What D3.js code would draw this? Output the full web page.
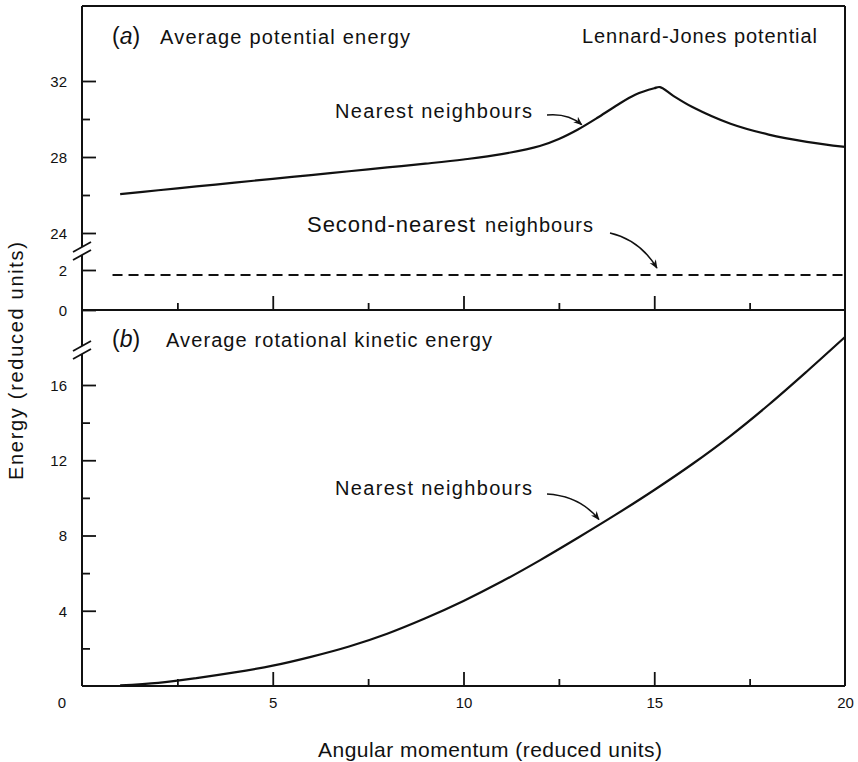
<!DOCTYPE html>
<html>
<head>
<meta charset="utf-8">
<script src="https://cdn.jsdelivr.net/npm/d3@7"></script>
<style>
  body { margin: 0; background: #fff; }
  svg text { font-family: "Liberation Sans", Arial, Helvetica, sans-serif; fill: #111; }
  .axis text { font-size: 15px; }
  .axis line { stroke: #111; stroke-width: 1.8; }
</style>
</head>
<body>
<div id="chart"></div>
<script>
// ---- data ----
// (a) average potential energy, nearest neighbours
const potX = [1, 2, 3, 4, 5, 6, 7, 8, 9, 10, 11, 12, 12.5, 13, 13.5, 14, 14.5, 15, 15.15, 15.5, 16, 17, 18, 19, 20];
const potY = [26.05, 26.25, 26.45, 26.65, 26.85, 27.05, 27.25, 27.45, 27.65, 27.87, 28.15, 28.58, 28.95, 29.45, 30.05, 30.7, 31.28, 31.62, 31.68, 31.22, 30.63, 29.75, 29.18, 28.8, 28.53];
// (a) second-nearest neighbours (dashed)
const secondX = [0.8, 20];
const secondY = [1.75, 1.75];
// (b) average rotational kinetic energy, nearest neighbours
const kinX = [1, 2, 3, 4, 5, 6, 7, 8, 9, 10, 11, 12, 13, 14, 15, 16, 17, 18, 19, 20];
const kinY = [0.03, 0.17, 0.42, 0.72, 1.08, 1.55, 2.1, 2.78, 3.6, 4.52, 5.55, 6.68, 7.88, 9.12, 10.42, 11.8, 13.3, 14.95, 16.72, 18.55];

// ticks
const xMajor = [5, 10, 15];
const xMinor = [2.5, 7.5, 12.5, 17.5];
const xLabels = [5, 10, 15, 20];
const upMajor = [24, 28, 32];
const upMinor = [26, 30];
const lowMajor = [2];
const bMajor = [4, 8, 12, 16];
const bMinor = [2, 6, 10, 14];

const W = 858, H = 762;
const svg = d3.select('#chart').append('svg').attr('width', W).attr('height', H);

const frameTop = 6, midY = 310, botY = 686;
const x = d3.scaleLinear().domain([0, 20]).range([82, 845]);
const yUp = d3.scaleLinear().domain([24, 32]).range([233, 81]);
const yLow = d3.scaleLinear().domain([0, 2]).range([310, 270]);
const yB = d3.scaleLinear().domain([0, 16]).range([686, 385]);

// ---- axes ----
function leftAxis(scale, major, minor) {
    const g = svg.append('g').attr('class', 'axis').attr('transform', `translate(${x(0)},0)`);
    g.call(d3.axisLeft(scale).tickValues(major).tickSize(-14).tickPadding(15).tickFormat(d3.format('d')))
        .call(g => g.select('.domain').remove());
    if (minor.length) {
        const gm = svg.append('g').attr('class', 'axis').attr('transform', `translate(${x(0)},0)`);
        gm.call(d3.axisLeft(scale).tickValues(minor).tickSize(-8).tickFormat(''))
            .call(g => g.select('.domain').remove());
    }
}
leftAxis(yUp, upMajor, upMinor);
leftAxis(yLow, lowMajor, []);
leftAxis(yLow, [0], []);
leftAxis(yB, bMajor, bMinor);
svg.selectAll('.axis text').attr('dy', '0.35em');

function bottomAxis(yPos, labels) {
    const g = svg.append('g').attr('class', 'axis').attr('transform', `translate(0,${yPos})`);
    g.call(d3.axisBottom(x).tickValues(xMajor).tickSize(-14).tickFormat(''))
        .call(g => g.select('.domain').remove());
    const gm = svg.append('g').attr('class', 'axis').attr('transform', `translate(0,${yPos})`);
    gm.call(d3.axisBottom(x).tickValues(xMinor).tickSize(-7).tickFormat(''))
        .call(g => g.select('.domain').remove());
    if (labels) {
        const gl = svg.append('g').attr('class', 'axis').attr('transform', `translate(0,${yPos})`);
        gl.call(d3.axisBottom(x).tickValues(xLabels).tickSize(0).tickPadding(11))
            .call(g => g.select('.domain').remove());
        gl.append('text').attr('x', x(0) - 20).attr('y', 11).attr('dy', '0.71em')
            .attr('text-anchor', 'middle').style('font-size', '15px').attr('fill', '#111').text('0');
    }
}
bottomAxis(midY, false);
bottomAxis(botY, true);

// ---- frame with axis breaks ----
const frame = svg.append('g').attr('stroke', '#111').attr('stroke-width', 2).attr('fill', 'none');
const breakA = 251, breakB = 350, gap = 4;
const segs = [
    [[x(0), frameTop], [x(0), breakA - gap]],
    [[x(0), breakA + gap], [x(0), breakB - gap]],
    [[x(0), breakB + gap], [x(0), botY]],
    [[x(0), frameTop], [x(20), frameTop]],
    [[x(20), frameTop], [x(20), botY]],
    [[x(0), midY], [x(20), midY]],
    [[x(0), botY], [x(20), botY]]
];
frame.selectAll('line.seg').data(segs).join('line').attr('class', 'seg')
    .attr('x1', d => d[0][0]).attr('y1', d => d[0][1])
    .attr('x2', d => d[1][0]).attr('y2', d => d[1][1]);
[breakA, breakB].forEach(b => {
    [-gap, gap].forEach(o => {
        frame.append('line').attr('stroke-width', 1.8)
            .attr('x1', x(0) - 9).attr('y1', b + o + 5)
            .attr('x2', x(0) + 9).attr('y2', b + o - 5);
    });
});

// ---- curves ----
const potLine = d3.line().x(d => x(d[0])).y(d => yUp(d[1])).curve(d3.curveCatmullRom.alpha(0.5));
svg.append('path').datum(d3.zip(potX, potY)).attr('d', potLine)
    .attr('fill', 'none').attr('stroke', '#111').attr('stroke-width', 2.2);

const secLine = d3.line().x(d => x(d[0])).y(d => yLow(d[1]));
svg.append('path').datum(d3.zip(secondX, secondY)).attr('d', secLine)
    .attr('fill', 'none').attr('stroke', '#111').attr('stroke-width', 2).attr('stroke-dasharray', '10,6');

const kinLine = d3.line().x(d => x(d[0])).y(d => yB(d[1])).curve(d3.curveCatmullRom.alpha(0.5));
svg.append('path').datum(d3.zip(kinX, kinY)).attr('d', kinLine)
    .attr('fill', 'none').attr('stroke', '#111').attr('stroke-width', 2.2);

// ---- annotations ----
svg.append('defs').append('marker')
    .attr('id', 'head').attr('viewBox', '0 0 10 10').attr('refX', 9).attr('refY', 5)
    .attr('markerWidth', 9).attr('markerHeight', 9).attr('orient', 'auto')
    .attr('markerUnits', 'userSpaceOnUse')
    .append('path').attr('d', 'M0,1 L10,5 L0,9 L3,5 Z').attr('fill', '#111');

const arrows = [
    {from: [547, 115], ctrl: [568, 113], to: [x(13.1), yUp(29.7)]},
    {from: [610, 233], ctrl: [640, 240], to: [x(15.07), yLow(2.1)]},
    {from: [547, 494], ctrl: [580, 496], to: [x(13.55), yB(8.85)]}
];
svg.selectAll('path.arrow').data(arrows).join('path').attr('class', 'arrow')
    .attr('d', d => `M${d.from[0]},${d.from[1]} Q${d.ctrl[0]},${d.ctrl[1]} ${d.to[0]},${d.to[1]}`)
    .attr('fill', 'none').attr('stroke', '#111').attr('stroke-width', 1.5)
    .attr('marker-end', 'url(#head)');

const labels = [
    {t: 'Average potential energy', x: 160, y: 44, len: 250, fs: 20},
    {t: 'Lennard-Jones potential', x: 582, y: 43, len: 235, fs: 20},
    {t: 'Nearest neighbours', x: 335, y: 118, len: 197, fs: 20},
    {t: 'Second-nearest', x: 307, y: 232, len: 168, fs: 22},
    {t: 'neighbours', x: 485, y: 232, len: 108, fs: 20},
    {t: 'Average rotational kinetic energy', x: 166, y: 347, len: 326, fs: 20},
    {t: 'Nearest neighbours', x: 335, y: 495, len: 197, fs: 20}
];
svg.selectAll('text.lab').data(labels).join('text').attr('class', 'lab')
    .attr('x', d => d.x).attr('y', d => d.y)
    .attr('textLength', d => d.len).attr('lengthAdjust', 'spacing')
    .style('font-size', d => d.fs + 'px').text(d => d.t);

[['a', 112, 44], ['b', 112, 347]].forEach(([c, px, py]) => {
    const t = svg.append('text').attr('x', px).attr('y', py).style('font-size', '23px');
    t.append('tspan').text('(');
    t.append('tspan').style('font-style', 'italic').text(c);
    t.append('tspan').text(')');
});

// axis titles
svg.append('text').attr('x', 318).attr('y', 757)
    .attr('textLength', 344).attr('lengthAdjust', 'spacing')
    .style('font-size', '21px').text('Angular momentum (reduced units)');
svg.append('text').attr('transform', 'translate(23,361) rotate(-90)')
    .attr('text-anchor', 'middle')
    .attr('textLength', 238).attr('lengthAdjust', 'spacing')
    .style('font-size', '20px').text('Energy (reduced units)');
</script>
</body>
</html>
